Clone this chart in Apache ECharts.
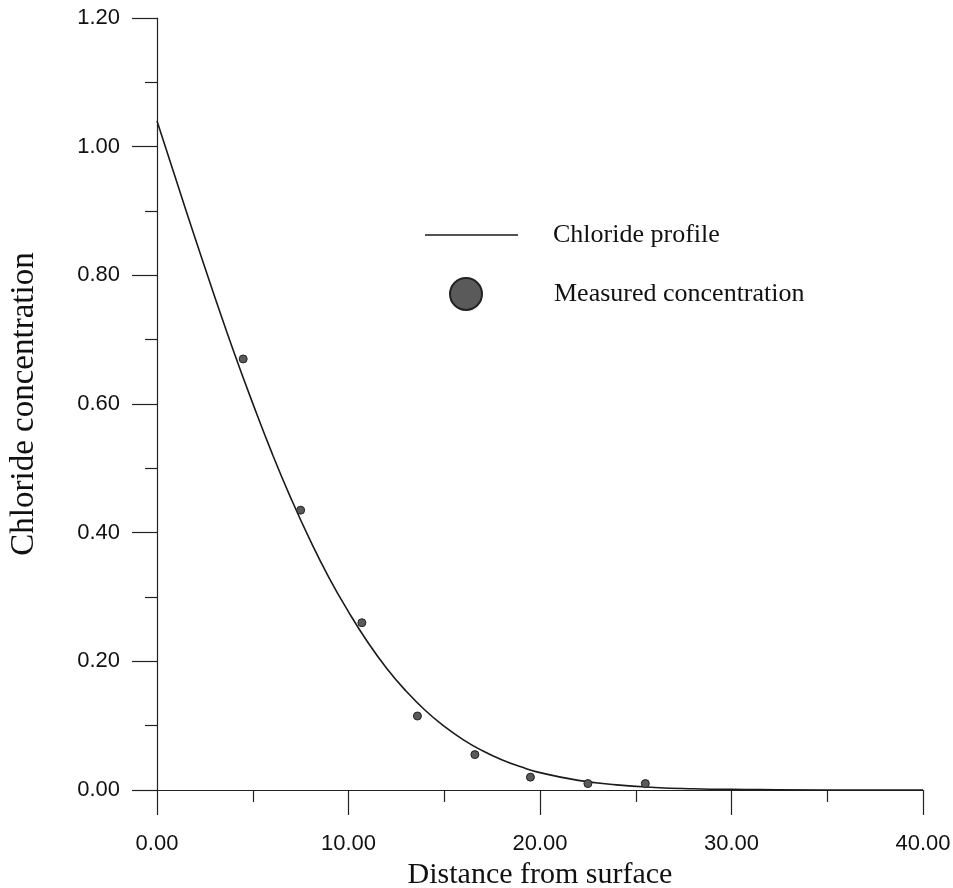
<!DOCTYPE html>
<html>
<head>
<meta charset="utf-8">
<script src="https://cdn.jsdelivr.net/npm/echarts@6/dist/echarts.min.js"></script>
<style>
  html, body { margin: 0; padding: 0; background: #fff; }
  #chart { width: 953px; height: 888px; }
</style>
</head>
<body>
<div id="chart"></div>
<script>
// fitted chloride profile
var profileX = [0, 1, 2, 3, 4, 5, 6, 7, 8, 9, 10, 11, 12, 13, 14, 15, 16, 17, 18, 19, 20, 22, 24, 26, 28, 30, 35, 40];
var profileY = [1.04, 0.948, 0.857, 0.768, 0.682, 0.601, 0.524, 0.453, 0.388, 0.329, 0.277, 0.230, 0.189, 0.154, 0.124, 0.099, 0.078, 0.061, 0.047, 0.036, 0.027, 0.015, 0.008, 0.004, 0.002, 0.001, 0, 0];

// measured points
var measuredX = [4.5, 7.5, 10.7, 13.6, 16.6, 19.5, 22.5, 25.5];
var measuredY = [0.670, 0.435, 0.260, 0.115, 0.055, 0.020, 0.010, 0.010];

var xTicks = [0, 10, 20, 30, 40];
var yTicks = [0, 0.2, 0.4, 0.6, 0.8, 1.0, 1.2];

var serif = '"Liberation Serif", "DejaVu Serif", serif';
var sans = '"Liberation Sans", Arial, sans-serif';

var myChart = echarts.init(document.getElementById('chart'), null, { renderer: 'canvas' });

function pairs(xs, ys) {
    var out = [];
    for (var i = 0; i < xs.length; i++) out.push([xs[i], ys[i]]);
    return out;
}

var option = {
    backgroundColor: '#fff',
    animation: false,
    grid: { left: 157, right: 30, top: 18, bottom: 98, outerBoundsMode: 'none', containLabel: false },
    legend: [
        {
            data: [{ name: 'Chloride profile', icon: 'rect' }],
            left: 425, top: 222, padding: 0,
            itemWidth: 93, itemHeight: 1.5,
            textStyle: { fontFamily: serif, fontSize: 26, color: '#111', padding: [0, 0, 0, 30] },
            selectedMode: false
        },
        {
            data: [{ name: 'Measured concentration', icon: 'circle' }],
            left: 449, top: 277, padding: 0,
            itemWidth: 32, itemHeight: 32,
            textStyle: { fontFamily: serif, fontSize: 26, color: '#111', padding: [0, 0, 0, 67] },
            selectedMode: false
        }
    ],
    xAxis: {
        type: 'value',
        min: xTicks[0], max: xTicks[xTicks.length - 1], interval: 10,
        name: 'Distance from surface',
        nameLocation: 'middle', nameGap: 68,
        nameTextStyle: { fontFamily: serif, fontSize: 30, color: '#111' },
        axisLine: { lineStyle: { color: '#222', width: 1.2 } },
        axisTick: { length: 25, lineStyle: { color: '#222', width: 1.2 } },
        minorTick: { show: true, splitNumber: 2, length: 12, lineStyle: { color: '#222', width: 1.2 } },
        splitLine: { show: false },
        axisLabel: {
            margin: 43, fontFamily: sans, fontSize: 22, color: '#111',
            formatter: function (v) { return v.toFixed(2); }
        }
    },
    yAxis: {
        type: 'value',
        min: yTicks[0], max: yTicks[yTicks.length - 1], interval: 0.2,
        name: 'Chloride concentration',
        nameLocation: 'middle', nameGap: 116,
        nameTextStyle: { fontFamily: serif, fontSize: 33, color: '#111' },
        axisLine: { show: true, lineStyle: { color: '#222', width: 1.2 } },
        axisTick: { show: true, length: 25, lineStyle: { color: '#222', width: 1.2 } },
        minorTick: { show: true, splitNumber: 2, length: 12, lineStyle: { color: '#222', width: 1.2 } },
        splitLine: { show: false },
        axisLabel: {
            margin: 37, fontFamily: sans, fontSize: 22, color: '#111',
            formatter: function (v) { return v.toFixed(2); }
        }
    },
    series: [
        {
            name: 'Chloride profile',
            type: 'line',
            smooth: true,
            symbol: 'none',
            data: pairs(profileX, profileY),
            lineStyle: { color: '#1a1a1a', width: 1.6 },
            itemStyle: { color: '#1a1a1a' },
            z: 3
        },
        {
            name: 'Measured concentration',
            type: 'scatter',
            symbol: 'circle',
            symbolSize: 8,
            data: pairs(measuredX, measuredY),
            itemStyle: { color: '#5a5a5a', borderColor: '#222', borderWidth: 1, opacity: 1 },
            z: 4
        }
    ]
};

myChart.setOption(option);
</script>
</body>
</html>
